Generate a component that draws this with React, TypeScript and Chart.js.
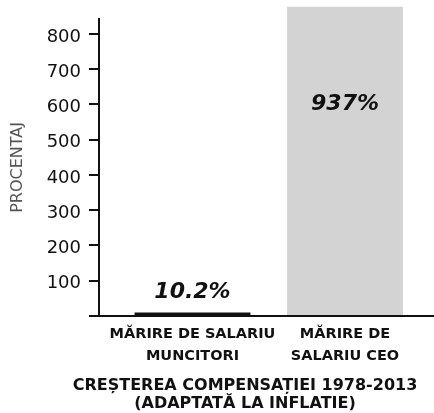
import React, { useEffect, useRef } from 'react';
import { Chart, registerables } from 'chart.js';

Chart.register(...registerables);

// ---- data ----
const CATEGORIES: string[][] = [
  ['MĂRIRE DE SALARIU', 'MUNCITORI'],
  ['MĂRIRE DE', 'SALARIU CEO'],
];
const INCREASE_PCT: number[] = [10.2, 937];
const BAR_COLORS: string[] = ['#111111', '#d3d3d3'];
const Y_TICK_STEP = 100;
const Y_MAX = 843;
const Y_TITLE = 'PROCENTAJ';
const X_TITLE: string[] = ['CREȘTEREA COMPENSAȚIEI 1978-2013', '(ADAPTATĂ LA INFLATIE)'];

const FONT = '"DejaVu Sans", sans-serif';
const INK = '#111111';

const valueLabels = {
  id: 'valueLabels',
  afterDatasetsDraw(chart: any) {
    const { ctx, chartArea, scales } = chart;
    const meta = chart.getDatasetMeta(0);
    ctx.save();
    ctx.font = `italic bold 22px ${FONT}`;
    ctx.fillStyle = INK;
    ctx.textAlign = 'center';
    meta.data.forEach((bar: any, i: number) => {
      const text = `${INCREASE_PCT[i]}%`;
      if (bar.y < chartArea.top) {
        ctx.textBaseline = 'middle';
        ctx.fillText(text, bar.x, scales.y.getPixelForValue(600));
      } else {
        ctx.textBaseline = 'alphabetic';
        ctx.fillText(text, bar.x, bar.y - 14);
      }
    });
    ctx.restore();
  },
};

export default function App() {
  const ref = useRef<HTMLCanvasElement>(null);

  useEffect(() => {
    if (!ref.current) return;
    const chart = new Chart(ref.current, {
      type: 'bar',
      data: {
        datasets: [
          {
            data: INCREASE_PCT.map((v, i) => ({ x: i + 1, y: v })),
            backgroundColor: BAR_COLORS,
            borderWidth: 0,
            barPercentage: 0.76,
            categoryPercentage: 1,
            clip: { left: 0, top: 12, right: 0, bottom: 0 } as any,
          },
        ],
      },
      options: {
        responsive: false,
        animation: false,
        devicePixelRatio: 1,
        layout: { padding: { top: 0, left: 0, right: 0, bottom: 0 } },
        plugins: {
          legend: { display: false },
          tooltip: { enabled: false },
          title: {
            display: true,
            position: 'bottom',
            text: X_TITLE,
            color: INK,
            font: { family: FONT, size: 16, weight: 'bold', lineHeight: '18px' } as any,
            padding: { top: 3, bottom: 0 },
          },
        },
        scales: {
          x: {
            type: 'linear',
            min: 0.3869,
            max: 2.9508,
            offset: false,
            grid: { display: false, drawTicks: false, offset: false },
            border: { display: true, color: INK, width: 2 },
            afterBuildTicks: (scale: any) => {
              scale.ticks = CATEGORIES.map((_, i) => ({ value: i + 1 }));
            },
            ticks: {
              autoSkip: false,
              maxRotation: 0,
              minRotation: 0,
              padding: 7,
              color: INK,
              font: { family: FONT, size: 14.5, weight: 'bold', lineHeight: '22px' } as any,
              callback: (v: any) => CATEGORIES[Number(v) - 1] ?? '',
            },
          },
          y: {
            type: 'linear',
            min: 0,
            max: Y_MAX,
            afterFit: (scale: any) => {
              scale.width = 99;
            },
            grid: {
              display: true,
              drawOnChartArea: false,
              drawTicks: true,
              tickLength: 10,
              color: INK,
              lineWidth: 2,
            },
            border: { display: true, color: INK, width: 2 },
            ticks: {
              stepSize: Y_TICK_STEP,
              includeBounds: false,
              padding: 8,
              labelOffset: 3,
              color: INK,
              font: { family: FONT, size: 18 },
              callback: (v: any) => (Number(v) === 0 ? '' : String(v)),
            },
            title: {
              display: true,
              text: Y_TITLE,
              color: '#555555',
              font: { family: FONT, size: 16 },
              padding: { top: 8, bottom: 0 },
            },
          },
        },
      },
      plugins: [valueLabels],
    } as any);
    return () => chart.destroy();
  }, []);

  return (
    <div
      style={{
        position: 'fixed',
        left: 0,
        top: 0,
        width: 434,
        height: 413,
        overflow: 'hidden',
        background: '#ffffff',
      }}
    >
      <canvas ref={ref} width={490} height={413} style={{ display: 'block' }} />
    </div>
  );
}
